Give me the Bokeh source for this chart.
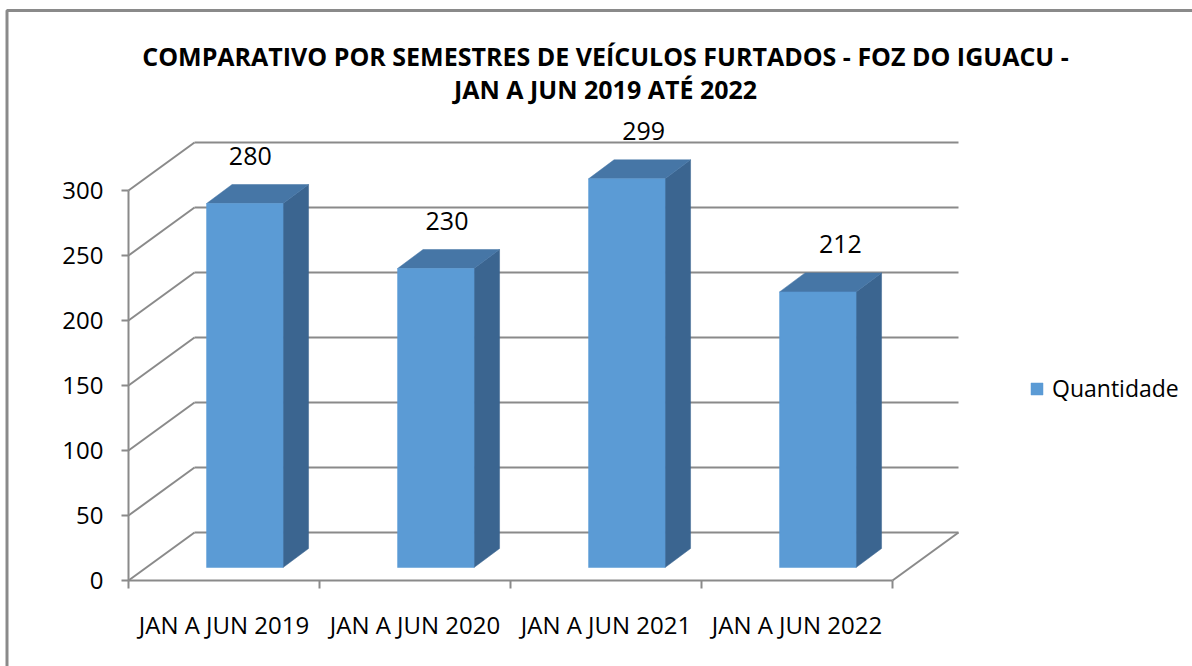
from bokeh.plotting import figure
from bokeh.models import Range1d, Legend, LegendItem, ColumnDataSource
from bokeh.core.properties import value
from bokeh.embed import file_html
from bokeh.resources import INLINE

# ---------------- data ----------------
categories = ["JAN A JUN 2019", "JAN A JUN 2020", "JAN A JUN 2021", "JAN A JUN 2022"]
quantidade = [280, 230, 299, 212]
y_ticks = [0, 50, 100, 150, 200, 250, 300]
y_tick_labels = ["0", "50", "100", "150", "200", "250", "300"]
title_lines = ["COMPARATIVO POR SEMESTRES DE VEÍCULOS FURTADOS - FOZ DO IGUACU -",
               "JAN A JUN 2019 ATÉ 2022"]
series_name = "Quantidade"

# ---------------- geometry ----------------
OFF = 0               # page offset of the figure
W, H = 1192, 666
PX_X = 191.0          # pixels per category
PX_Y = 1.30           # pixels per unit of value
ORIGIN_X = 128 - OFF  # frame-local pixel of x=0
ORIGIN_Y = 580 - OFF  # frame-local pixel (from top) of y=0


def dx(px):
    return px / PX_X


def dy(px):
    return px / PX_Y


def X(page_x):
    return (page_x - OFF - ORIGIN_X) / PX_X


def Y(page_y):
    return (ORIGIN_Y - (page_y - OFF)) / PX_Y


GRID = "#8a8a8a"
FRONT = "#5B9BD5"
TOP = "#4676A6"
SIDE = "#3B6590"
FONT = value("Open Sans")

p = figure(width=W, height=H,
           x_range=Range1d(X(OFF), X(OFF + W)), y_range=Range1d(Y(OFF + H), Y(OFF)),
           output_backend="svg", toolbar_location=None,
           x_axis_location=None, y_axis_location=None,
           min_border=0, outline_line_color=None, background_fill_color="white",
           border_fill_color="white")
p.xgrid.visible = False
p.ygrid.visible = False

NC = len(categories)
DX, DY = dx(66), dy(48)
ymax = y_ticks[-1]

# outer chart border (left and top, the rest is cut off)
p.line(x=[X(6.5), X(6.5), X(OFF + W)], y=[Y(OFF + H), Y(10), Y(10)],
       line_color=GRID, line_width=3)

# back wall gridlines
p.multi_line(xs=[[DX, NC + DX] for v in y_ticks],
             ys=[[v + DY, v + DY] for v in y_ticks], line_color=GRID, line_width=2)
# side wall gridlines
p.multi_line(xs=[[0, DX] for v in y_ticks],
             ys=[[v, v + DY] for v in y_ticks], line_color=GRID, line_width=2)
# floor
p.multi_line(xs=[[0, NC], [NC, NC + DX]], ys=[[0, 0], [0, DY]],
             line_color=GRID, line_width=2)
# vertical axis line and ticks
p.line(x=[0, 0], y=[0, ymax], line_color=GRID, line_width=2)
p.multi_line(xs=[[-dx(7), 0] for v in y_ticks], ys=[[v, v] for v in y_ticks],
             line_color=GRID, line_width=2)
p.multi_line(xs=[[i, i] for i in range(NC + 1)], ys=[[0, -dy(8)] for i in range(NC + 1)],
             line_color=GRID, line_width=2)

# ---------------- bars ----------------
half = dx(76.5) / 2
base = dy(13)
bdx, bdy = dx(25.5), dy(19)
cx = [i + 0.5 + dx(20.8) for i in range(NC)]
lefts = [c - half for c in cx]
rights = [c + half for c in cx]
tops = [base + v for v in quantidade]

top_xs = [[l, r, r + bdx, l + bdx] for l, r in zip(lefts, rights)]
top_ys = [[t, t, t + bdy, t + bdy] for t in tops]
side_xs = [[r, r + bdx, r + bdx, r] for r in rights]
side_ys = [[base, base + bdy, t + bdy, t] for t in tops]

p.patches(xs=side_xs, ys=side_ys, fill_color=SIDE, line_color=SIDE, line_width=0.5)
p.patches(xs=top_xs, ys=top_ys, fill_color=TOP, line_color=TOP, line_width=0.5)
front = p.quad(left=lefts, right=rights, bottom=[base] * NC, top=tops,
               fill_color=FRONT, line_color=FRONT, line_width=0.5)

# data labels
lab_src = ColumnDataSource(dict(
    x=[c + dx(5.5 + 5.7 * i) for i, c in enumerate(cx)],
    y=[t + dy(48) for t in tops],
    text=[str(v) for v in quantidade]))
p.text(x="x", y="y", text="text", source=lab_src, text_font=FONT,
       text_font_size=value("25px"), text_align="center", text_baseline="middle",
       text_color="black")

# y tick labels
p.text(x=[X(103)] * len(y_ticks), y=y_ticks, text=y_tick_labels, text_font=FONT,
       text_font_size=value("24px"), text_align="right", text_baseline="middle",
       text_color="black")

# category labels
p.text(x=[i + 0.5 for i in range(NC)], y=[Y(624)] * NC, text=categories, text_font=FONT,
       text_font_size=value("24px"), text_align="center", text_baseline="middle",
       text_color="black")

# title
p.text(x=[X(605), X(605)], y=[Y(55), Y(88)], text=title_lines, text_font=FONT,
       text_font_size=value("25px"), text_font_style="bold", text_align="center",
       text_baseline="middle", text_color="black")

# legend
legend = Legend(items=[LegendItem(label=series_name, renderers=[front])],
                location=(1029 - OFF, H - (404 - OFF)), orientation="vertical",
                glyph_width=15, glyph_height=15, label_standoff=8,
                padding=0, margin=0, spacing=0,
                border_line_color=None, background_fill_alpha=0,
                label_text_font="Open Sans", label_text_font_size="23px",
                label_text_color="black")
p.add_layout(legend)

open("out.html", "w").write(file_html(p, INLINE))
